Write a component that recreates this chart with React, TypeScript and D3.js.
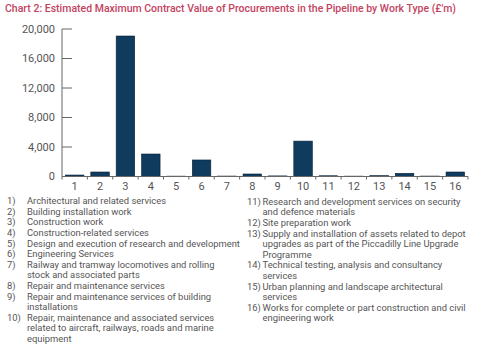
import React from "react";
import * as d3 from "d3";

const title = "Chart 2: Estimated Maximum Contract Value of Procurements in the Pipeline by Work Type (£'m)";
const categories = ["1","2","3","4","5","6","7","8","9","10","11","12","13","14","15","16"];
const values = [200, 610, 19050, 3050, 50, 2240, 60, 340, 80, 4800, 100, 50, 120, 430, 60, 610];
const yTicks = [0, 4000, 8000, 12000, 16000, 20000];

const legendLeft: string[][] = [
  ["1)", "Architectural and related services"],
  ["2)", "Building installation work"],
  ["3)", "Construction work"],
  ["4)", "Construction-related services"],
  ["5)", "Design and execution of research and development"],
  ["6)", "Engineering Services"],
  ["7)", "Railway and tramway locomotives and rolling", "stock and associated parts"],
  ["8)", "Repair and maintenance services"],
  ["9)", "Repair and maintenance services of building", "installations"],
  ["10)", "Repair, maintenance and associated services", "related to aircraft, railways, roads and marine", "equipment"],
];
const legendRight: string[][] = [
  ["11)", "Research and development services on security", "and defence materials"],
  ["12)", "Site preparation work"],
  ["13)", "Supply and installation of assets related to depot", "upgrades as part of the Piccadilly Line Upgrade", "Programme"],
  ["14)", "Technical testing, analysis and consultancy", "services"],
  ["15)", "Urban planning and landscape architectural", "services"],
  ["16)", "Works for complete or part construction and civil", "engineering work"],
];

const FONT = "Roboto, 'Open Sans', sans-serif";

function Legend({ items, xNum, xText, y0, lh }: { items: string[][]; xNum: number; xText: number; y0: number; lh: number }) {
  const out: React.ReactNode[] = [];
  let line = 0;
  items.forEach((it, i) => {
    out.push(
      <text key={"n" + i} x={xNum} y={y0 + line * lh} dy="0.35em">{it[0]}</text>
    );
    it.slice(1).forEach((t, j) => {
      out.push(
        <text key={"t" + i + "_" + j} x={xText} y={y0 + line * lh} dy="0.35em">{t}</text>
      );
      line++;
    });
  });
  return <g fontFamily={FONT} fontSize={9.4} fill="#555">{out}</g>;
}

export default function App() {
  const W = 480, H = 348;
  const x0 = 62, x1 = 468, yTop = 29, yBase = 176.5;
  const x = d3.scaleBand<string>().domain(categories).range([x0, x1]).paddingInner(0.27).paddingOuter(0.135);
  const y = d3.scaleLinear().domain([0, 20000]).range([yBase, yTop]);
  const step = (x1 - x0) / categories.length;
  const boundaries = d3.range(categories.length + 1).map((i) => x0 + i * step);
  const fmt = d3.format(",");

  return (
    <svg width={W} height={H} style={{ position: "absolute", left: 0, top: 0, background: "#fff" }}>
      <text x={5} y={8} dy="0.35em" fontFamily={FONT} fontSize={10.6} fontWeight={500} fill="#c4435f"
        textLength={451} lengthAdjust="spacingAndGlyphs">{title}</text>
      {/* y axis */}
      <line x1={x0} x2={x0} y1={yTop} y2={yBase} stroke="#666" strokeWidth={1} />
      {yTicks.map((t) => (
        <g key={t}>
          {t > 0 && <line x1={x0} x2={x0 + 10} y1={y(t)} y2={y(t)} stroke="#666" strokeWidth={1} />}
          <text x={55} y={y(t)} dy="0.35em" textAnchor="end" fontFamily={FONT} fontSize={11} fill="#555">{fmt(t)}</text>
        </g>
      ))}
      {/* bars */}
      {categories.map((c, i) => (
        <rect key={c} x={x(c)} y={y(values[i])} width={x.bandwidth()} height={yBase - y(values[i])}
          fill="#0f3b5f" stroke="#0a2033" strokeWidth={0.6} />
      ))}
      {/* x axis */}
      <line x1={x0} x2={x1} y1={yBase} y2={yBase} stroke="#666" strokeWidth={1} />
      {boundaries.map((b, i) => (
        <line key={i} x1={b} x2={b} y1={yBase} y2={yBase + 3} stroke="#666" strokeWidth={1} />
      ))}
      {categories.map((c) => (
        <text key={c} x={(x(c) as number) + x.bandwidth() / 2} y={185.7} dy="0.35em" textAnchor="middle"
          fontFamily={FONT} fontSize={11} fill="#555">{c}</text>
      ))}
      <Legend items={legendLeft} xNum={7} xText={27} y0={201} lh={10.6} />
      <Legend items={legendRight} xNum={247} xText={262.5} y0={201.5} lh={10.6} />
    </svg>
  );
}
